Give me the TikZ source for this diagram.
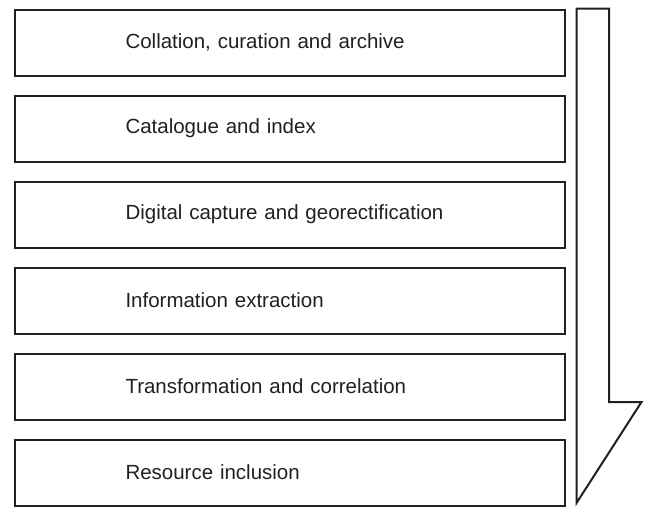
\documentclass[tikz,border=0pt]{standalone}
\usepackage{fontspec}
\setmainfont{Liberation Sans}
\definecolor{ink}{HTML}{231F20}
\begin{document}
\begin{tikzpicture}[x=1pt,y=-1pt,
  stagebox/.style={draw=ink, line width=2pt, rectangle, minimum height=66pt,
    inner xsep=111pt, inner ysep=0pt, text width=328pt, align=left,
    font=\fontsize{20.5}{24}\selectfont, text=ink, anchor=north west},
  flowarrow/.style={draw=ink, line width=2pt, line join=miter}]
\useasboundingbox (0,0) rectangle (647,506);
\node[stagebox] (s1) at (13.5,8.5) {Collation, curation and archive};
\node[stagebox] (s2) at (13.5,94.5) {Catalogue and index};
\node[stagebox] (s3) at (13.5,180.5) {Digital capture and georectification};
\node[stagebox] (s4) at (13.5,266.5) {Information extraction};
\node[stagebox] (s5) at (13.5,352.5) {Transformation and correlation};
\node[stagebox] (s6) at (13.5,438.5) {Resource inclusion};
\coordinate (a1) at (576.5,8.5);
\coordinate (a2) at (609,8.5);
\coordinate (a3) at (609,402);
\coordinate (a4) at (641.5,402);
\coordinate (a5) at (576.5,503);
\draw[flowarrow] (a1) -- (a2) -- (a3) -- (a4) -- (a5) -- cycle;
\end{tikzpicture}
\end{document}
